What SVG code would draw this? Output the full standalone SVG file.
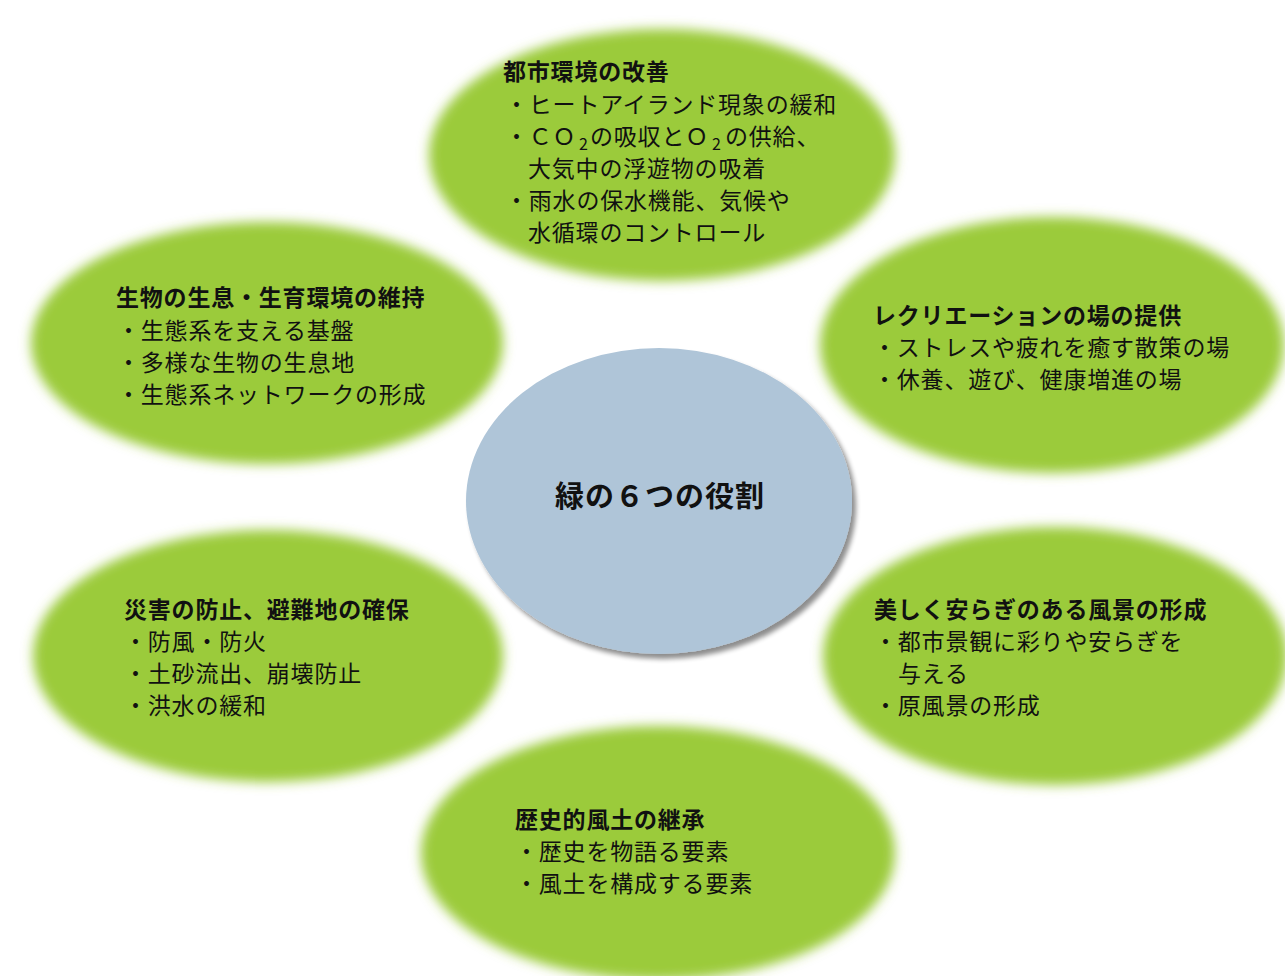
<svg xmlns="http://www.w3.org/2000/svg" width="1285" height="976" viewBox="0 0 1285 976">
<style>
.leaf{fill:#9BCB3B;filter:url(#soft)}
.hub{fill:#AFC5D8;filter:url(#shadow)}
text{font-family:"Noto Sans CJK JP","Noto Sans CJK SC",sans-serif;fill:#111;letter-spacing:0.8px}
.t{font-size:23px;font-weight:bold}
.b{font-size:23px}
.c{font-size:29px;font-weight:bold;letter-spacing:1px}
.sub{font-size:16px;letter-spacing:0}
</style>
<defs>
<filter id="soft" x="-20%" y="-30%" width="140%" height="160%">
<feGaussianBlur stdDeviation="6"/>
</filter>
<filter id="shadow" x="-10%" y="-10%" width="125%" height="125%">
<feGaussianBlur in="SourceAlpha" stdDeviation="2.5" result="b"/>
<feOffset in="b" dx="4" dy="5" result="o"/>
<feComponentTransfer in="o" result="s"><feFuncA type="linear" slope="0.45"/></feComponentTransfer>
<feMerge><feMergeNode in="s"/><feMergeNode in="SourceGraphic"/></feMerge>
</filter>
</defs>
<rect width="1285" height="976" fill="#fff"/>
<g id="connectors"/>
<g id="node-top">
<ellipse class="leaf" cx="662" cy="155" rx="233" ry="126"/>
<text class="t" x="503" y="80">都市環境の改善</text>
<text class="b" x="505" y="113">・ヒートアイランド現象の緩和</text>
<text class="b" x="505" y="145">・ＣＯ</text>
<text class="sub" x="579" y="150">2</text>
<text class="b" x="590" y="145">の吸収とＯ</text>
<text class="sub" x="712" y="150">2</text>
<text class="b" x="725" y="145">の供給、</text>
<text class="b" x="528" y="177">大気中の浮遊物の吸着</text>
<text class="b" x="505" y="209">・雨水の保水機能、気候や</text>
<text class="b" x="528" y="241">水循環のコントロール</text>
</g>
<g id="node-upper-left">
<ellipse class="leaf" cx="267" cy="343" rx="236" ry="121"/>
<text class="t" x="116" y="306">生物の生息・生育環境の維持</text>
<text class="b" x="117" y="339">・生態系を支える基盤</text>
<text class="b" x="117" y="371">・多様な生物の生息地</text>
<text class="b" x="117" y="403">・生態系ネットワークの形成</text>
</g>
<g id="node-upper-right">
<ellipse class="leaf" cx="1052" cy="345" rx="232" ry="128"/>
<text class="t" x="873" y="324">レクリエーションの場の提供</text>
<text class="b" x="873" y="356">・ストレスや疲れを癒す散策の場</text>
<text class="b" x="873" y="388">・休養、遊び、健康増進の場</text>
</g>
<g id="node-lower-left">
<ellipse class="leaf" cx="268" cy="656" rx="235" ry="126"/>
<text class="t" x="124" y="618">災害の防止、避難地の確保</text>
<text class="b" x="124" y="650">・防風・防火</text>
<text class="b" x="124" y="682">・土砂流出、崩壊防止</text>
<text class="b" x="124" y="714">・洪水の緩和</text>
</g>
<g id="node-lower-right">
<ellipse class="leaf" cx="1055" cy="656" rx="232" ry="129"/>
<text class="t" x="874" y="618">美しく安らぎのある風景の形成</text>
<text class="b" x="874" y="650">・都市景観に彩りや安らぎを</text>
<text class="b" x="898" y="682">与える</text>
<text class="b" x="874" y="714">・原風景の形成</text>
</g>
<g id="node-bottom">
<ellipse class="leaf" cx="658" cy="853" rx="237" ry="127"/>
<text class="t" x="515" y="828">歴史的風土の継承</text>
<text class="b" x="515" y="860">・歴史を物語る要素</text>
<text class="b" x="515" y="892">・風土を構成する要素</text>
</g>
<g id="node-center">
<ellipse class="hub" cx="659" cy="501" rx="193" ry="153"/>
<text class="c" x="660" y="507" text-anchor="middle">緑の６つの役割</text>
</g>
</svg>
